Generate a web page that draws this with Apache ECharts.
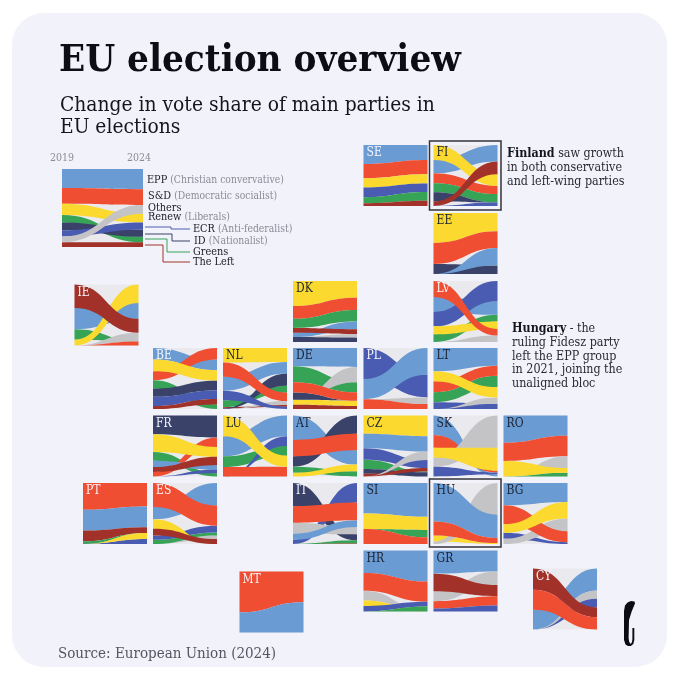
<!DOCTYPE html>
<html><head><meta charset="utf-8">
<style>html,body{margin:0;padding:0;background:#fff}#c{width:680px;height:680px}</style>
<script src="https://cdn.jsdelivr.net/npm/echarts@6/dist/echarts.min.js"></script>
</head><body><div id="c"></div>
<script>
const years = ['2019','2024'];
const partyLabels = [['EPP','Christian convervative'],['S&D','Democratic socialist'],['Others',''],['Renew','Liberals'],['ECR','Anti-federalist'],['ID','Nationalist'],['Greens',''],['The Left','']];
// Vote share by party, listed in stack order (top to bottom) for each election.
const KEY_2019=[['EPP',24.5],['SD',20],['REN',14.5],['GRN',9.5],['ID',10],['ECR',8],['OTH',7.5],['LEFT',6]];
const KEY_2024=[['EPP',26],['SD',20],['OTH',11.5],['REN',11],['ECR',9.5],['ID',9],['GRN',7],['LEFT',6]];
const KEY_top=['OTH'];
const SE_2019=[['EPP',31],['SD',23.5],['REN',15],['ECR',16],['GRN',10],['LEFT',4.5]];
const SE_2024=[['EPP',24.5],['SD',23.5],['REN',15],['ECR',14],['GRN',14.5],['LEFT',8.5]];
const SE_top=[];
const FI_2019=[['REN',24.5],['EPP',22],['SD',16],['GRN',15],['ID',15],['LEFT',7.5],['ECR',0]];
const FI_2024=[['EPP',27],['LEFT',21],['REN',19],['SD',13.5],['GRN',13.5],['ID',0],['ECR',6]];
const FI_top=['ECR','EPP','SD','GRN','ID','REN','LEFT'];
const EE_2019=[['REN',49],['SD',34.5],['ID',16.5],['EPP',0]];
const EE_2024=[['REN',30],['SD',27.5],['EPP',28.5],['ID',14]];
const EE_top=['EPP'];
const LV_2019=[['SD',26],['EPP',24.5],['ECR',23.5],['REN',13],['GRN',12.5],['OTH',0]];
const LV_2024=[['ECR',33],['EPP',22.5],['GRN',11],['REN',12],['SD',11],['OTH',10.5]];
const LV_top=['GRN','REN','SD'];
const IE_2019=[['LEFT',38.5],['EPP',35],['GRN',17],['REN',9.5],['OTH',0],['SD',0]];
const IE_2024=[['REN',30],['EPP',25.5],['LEFT',22.5],['OTH',14],['GRN',0],['SD',6.5]];
const IE_top=['REN','LEFT'];
const BE_2019=[['EPP',19],['REN',19],['SD',15],['GRN',13.5],['ID',13.5],['ECR',15],['LEFT',5]];
const BE_2024=[['SD',19],['EPP',17.5],['REN',17],['ID',16],['ECR',14],['LEFT',9],['GRN',7.5]];
const BE_top=['SD','REN','ID','ECR','LEFT'];
const NL_2019=[['REN',23.5],['SD',23],['EPP',23],['ECR',15.5],['GRN',11],['LEFT',2],['ID',1],['OTH',0]];
const NL_2024=[['REN',23],['EPP',19],['ID',20],['GRN',11],['SD',14],['OTH',6.5],['LEFT',3],['ECR',3.5]];
const NL_top=['GRN','ID','ECR','SD'];
const FR_2019=[['ID',30.5],['REN',29],['GRN',14.5],['EPP',10],['LEFT',8],['SD',7.5],['ECR',0]];
const FR_2024=[['ID',36],['SD',15.5],['REN',16],['LEFT',14],['EPP',7],['ECR',6],['GRN',5.5]];
const FR_top=['SD','REN','EPP','ECR','LEFT'];
const LU_2019=[['REN',34],['EPP',33],['GRN',17.5],['SD',15.5],['ECR',0]];
const LU_2024=[['EPP',34],['ECR',16],['GRN',16],['REN',18],['SD',16]];
const LU_top=['ECR','SD','REN'];
const DK_2019=[['REN',41],['SD',21],['GRN',15],['LEFT',8],['EPP',7],['OTH',0],['ID',8]];
const DK_2024=[['REN',27.5],['SD',20],['GRN',19],['EPP',12.5],['LEFT',8],['OTH',6],['ID',7]];
const DK_top=['EPP','LEFT'];
const DE_2019=[['EPP',30],['GRN',26],['SD',17],['ID',12],['OTH',0],['REN',8],['LEFT',7]];
const DE_2024=[['EPP',31],['OTH',25],['GRN',16.5],['SD',14],['ID',0],['REN',8.5],['LEFT',5]];
const DE_top=['GRN','OTH','ID','SD'];
const PL_2019=[['ECR',51],['EPP',33],['OTH',0],['SD',16]];
const PL_2024=[['EPP',44],['ECR',37],['OTH',11],['SD',8]];
const PL_top=['EPP'];
const LT_2019=[['EPP',38],['REN',16.5],['SD',18],['GRN',16.5],['ECR',11],['OTH',0]];
const LT_2024=[['EPP',29],['SD',16.5],['GRN',18.5],['REN',17],['OTH',10.5],['ECR',8.5]];
const LT_top=['GRN','SD','REN'];
const AT_2019=[['EPP',40],['SD',27],['ID',17],['GRN',10],['REN',6]];
const AT_2024=[['ID',30],['SD',27],['EPP',23.5],['REN',11],['GRN',8.5]];
const AT_top=['EPP','ID','GRN','REN','SD'];
const CZ_2019=[['REN',30],['EPP',23.5],['ECR',19],['GRN',15],['ID',8],['LEFT',4.5],['OTH',0]];
const CZ_2024=[['REN',34],['EPP',25],['OTH',14],['ECR',13],['LEFT',6],['GRN',1],['ID',7]];
const CZ_top=['LEFT','OTH'];
const SK_2019=[['EPP',32],['SD',21],['REN',16],['OTH',15],['ECR',16]];
const SK_2024=[['OTH',53],['REN',37.5],['SD',3],['ECR',3],['EPP',3.5]];
const SK_top=['SD','OTH','ECR','REN'];
const RO_2019=[['EPP',44.5],['SD',30],['REN',25.5],['OTH',0],['GRN',0]];
const RO_2024=[['EPP',33],['SD',34],['OTH',19],['REN',8],['GRN',6]];
const RO_top=['SD','OTH','REN'];
const BG_2019=[['EPP',36.5],['SD',31],['REN',14],['ECR',10],['OTH',8.5]];
const BG_2024=[['EPP',31],['REN',27],['OTH',21],['SD',18],['ECR',3]];
const BG_top=['ECR','OTH','SD','REN'];
const PT_2019=[['SD',44],['EPP',34],['LEFT',17.5],['GRN',4.5],['REN',0],['ECR',0]];
const PT_2024=[['SD',38.5],['EPP',34],['LEFT',9.5],['GRN',0],['REN',10],['ECR',8]];
const PT_top=['ECR','REN'];
const ES_2019=[['SD',39.5],['EPP',20],['REN',15.5],['LEFT',11],['ECR',7],['GRN',7],['OTH',0]];
const ES_2024=[['EPP',37],['SD',33],['ECR',11],['GRN',5],['OTH',6],['LEFT',8],['REN',0]];
const ES_top=['OTH','GRN','ECR','REN','LEFT','SD'];
const IT_2019=[['ID',38],['SD',27],['OTH',18],['EPP',10],['ECR',7],['GRN',0],['LEFT',0]];
const IT_2024=[['ECR',32],['SD',29],['EPP',11],['OTH',12],['ID',10],['GRN',5],['LEFT',1]];
const IT_top=['ID','ECR','OTH','EPP','SD'];
const MT_2019=[['SD',67],['EPP',33]];
const MT_2024=[['SD',50.5],['EPP',49.5]];
const MT_top=[];
const SI_2019=[['EPP',50],['REN',25.5],['GRN',0],['SD',24.5]];
const SI_2024=[['EPP',55.5],['REN',21.5],['GRN',12],['SD',11]];
const SI_top=['SD'];
const HU_2019=[['EPP',63],['SD',23],['REN',10],['OTH',4]];
const HU_2024=[['OTH',52],['EPP',38],['SD',8.5],['REN',1.5]];
const HU_top=['OTH','EPP','SD'];
const HR_2019=[['EPP',37],['SD',29],['OTH',16],['REN',9],['ECR',9],['GRN',0]];
const HR_2024=[['EPP',51],['SD',33],['ECR',8],['GRN',8],['OTH',0],['REN',0]];
const HR_top=['ECR','GRN'];
const GR_2019=[['EPP',38],['LEFT',29],['OTH',16],['SD',12],['ECR',5]];
const GR_2024=[['EPP',34.5],['OTH',22],['LEFT',18.5],['SD',15],['ECR',10]];
const GR_top=['OTH','LEFT'];
const CY_2019=[['LEFT',35],['SD',32.5],['EPP',32.5],['OTH',0],['ECR',0]];
const CY_2024=[['EPP',36],['OTH',13.5],['ECR',14.5],['LEFT',16],['SD',20]];
const CY_top=['EPP','OTH','ECR','LEFT','SD'];

// ---- styling and layout ----
const colors={EPP:'#6a9bd3',SD:'#f04e33',OTH:'#c4c4c7',REN:'#fbd92f',ECR:'#4a5cb1',ID:'#3a4269',GRN:'#37a356',LEFT:'#a23229'};
const C=[153,223,293,363.5,433.5,503.5], R=[145,213,281,348,415.5,483,550.5];
const tiles=[
 ['',KEY_2019,KEY_2024,KEY_top,62,169,81,78],
 ['SE',SE_2019,SE_2024,SE_top,C[3],R[0],,,1],['FI',FI_2019,FI_2024,FI_top,C[4],R[0]],
 ['EE',EE_2019,EE_2024,EE_top,C[4],R[1]],['LV',LV_2019,LV_2024,LV_top,C[4],R[2],,,1],
 ['DK',DK_2019,DK_2024,DK_top,C[2],R[2]],['IE',IE_2019,IE_2024,IE_top,74.5,284.5,,,1],
 ['BE',BE_2019,BE_2024,BE_top,C[0],R[3],,,1],['NL',NL_2019,NL_2024,NL_top,C[1],R[3]],
 ['DE',DE_2019,DE_2024,DE_top,C[2],R[3]],['PL',PL_2019,PL_2024,PL_top,C[3],R[3],,,1],
 ['LT',LT_2019,LT_2024,LT_top,C[4],R[3]],
 ['FR',FR_2019,FR_2024,FR_top,C[0],R[4],,,1],['LU',LU_2019,LU_2024,LU_top,C[1],R[4]],
 ['AT',AT_2019,AT_2024,AT_top,C[2],R[4]],['CZ',CZ_2019,CZ_2024,CZ_top,C[3],R[4]],
 ['SK',SK_2019,SK_2024,SK_top,C[4],R[4]],['RO',RO_2019,RO_2024,RO_top,C[5],R[4]],
 ['PT',PT_2019,PT_2024,PT_top,83,R[5],,,1],['ES',ES_2019,ES_2024,ES_top,C[0],R[5],,,1],
 ['IT',IT_2019,IT_2024,IT_top,C[2],R[5],,,1],['SI',SI_2019,SI_2024,SI_top,C[3],R[5]],
 ['HU',HU_2019,HU_2024,HU_top,C[4],R[5]],['BG',BG_2019,BG_2024,BG_top,C[5],R[5]],
 ['HR',HR_2019,HR_2024,HR_top,C[3],R[6]],['GR',GR_2019,GR_2024,GR_top,C[4],R[6]],
 ['MT',MT_2019,MT_2024,MT_top,239.5,571.5,,,1],['CY',CY_2019,CY_2024,CY_top,533,568.5,,,1]
];
const SERIF='"DejaVu Serif Condensed","DejaVu Serif",serif';
const INK='#15151f', GREY='#8b8b98';

function stack(list){
  const sum=list.reduce((a,r)=>a+r[1],0), out={}; let y=0;
  list.forEach(r=>{const h=r[1]/sum*100; out[r[0]]=[y,y+h]; y+=h;});
  return out;
}
const grids=[],xAxes=[],yAxes=[],series=[],graphics=[];
graphics.push({type:'rect',z:-10,shape:{x:12,y:13,width:655,height:654,r:32},style:{fill:'#f2f2fb'}});
tiles.forEach((t,i)=>{
  const [name,a,b,top,x,y,w=64,h=61,light]=t;
  grids.push({left:x,top:y,width:w,height:h,show:true,backgroundColor:'#e9e9ee',borderWidth:0,containLabel:false});
  xAxes.push({type:'value',gridIndex:i,min:0,max:1,show:false});
  yAxes.push({type:'value',gridIndex:i,min:0,max:100,inverse:true,show:false});
  const sa=stack(a),sb=stack(b);
  const order=a.map(r=>r[0]).filter(p=>!top.includes(p)).concat(top);
  const rows=order.map(p=>({value:[0,sa[p][0],sa[p][1],sb[p][0],sb[p][1]],party:p}));
  const keys=rows.map(r=>r.party);
  series.push({type:'custom',coordinateSystem:'cartesian2d',xAxisIndex:i,yAxisIndex:i,silent:true,animation:false,clip:false,
    encode:{x:0,y:1},data:rows.map(r=>r.value),
    renderItem:(params,api)=>{
      const p0=api.coord([0,api.value(1)]),p1=api.coord([0,api.value(2)]),q0=api.coord([1,api.value(3)]),q1=api.coord([1,api.value(4)]);
      const xm=(p0[0]+q0[0])/2;
      const d=`M${p0[0]} ${p0[1]}C${xm} ${p0[1]} ${xm} ${q0[1]} ${q0[0]} ${q0[1]}L${q1[0]} ${q1[1]}C${xm} ${q1[1]} ${xm} ${p1[1]} ${p1[0]} ${p1[1]}Z`;
      return {type:'path',shape:{pathData:d},style:{fill:colors[keys[params.dataIndex]]}};
    }});
  if(name) graphics.push({type:'text',z:50,x:x+3,y:y+2,style:{text:name,font:'12px '+SERIF,fill:light?'#f6f6fb':'#1b2333'}});
});

function txt(x,y,text,size,fill,weight){
  graphics.push({type:'text',z:60,x:x,y:y,style:{text:text,font:(weight||'normal')+' '+size+'px '+SERIF,fill:fill,verticalAlign:'middle'}});
}
function rtxt(x,y,text,size,rich){
  graphics.push({type:'text',z:60,x:x,y:y,style:{text:text,font:size+'px '+SERIF,verticalAlign:'middle',rich:rich}});
}
txt(59,61.5,'EU election overview',38.2,'#0d0d14','bold');
txt(60,106,'Change in vote share of main parties in',20.8,'#15151f');
txt(60,128,'EU elections',20.8,'#15151f');
txt(50,158.5,years[0],10.5,GREY);
txt(127,158.5,years[1],10.5,GREY);
const keyRich={n:{font:'10.8px '+SERIF,fill:'#20202c'},d:{font:'10.3px '+SERIF,fill:GREY}};
const keyPos=[[147,180],[148,196],[148,208],[148,217],[193,229],[194,241],[193,252],[193,262]];
partyLabels.forEach((l,i)=>{
  rtxt(keyPos[i][0],keyPos[i][1],`{n|${l[0]}}`+(l[1]?` {d|(${l[1]})}`:''),10.8,keyRich);
});
[[colors.ECR,227,171,229],[colors.ID,234,172,241],[colors.GRN,239,167,252],[colors.LEFT,245,163,262]].forEach(s=>{
  graphics.push({type:'polyline',z:40,shape:{points:[[145,s[1]],[s[2],s[1]],[s[2],s[3]],[190,s[3]]]},style:{stroke:s[0],lineWidth:1,fill:null}});
});
const noteRich={b:{font:'bold 12.4px '+SERIF,fill:'#15151f'},t:{font:'12.4px '+SERIF,fill:'#2a2a36'}};
rtxt(507,154,'{b|Finland} {t|saw growth}',12.4,noteRich);
rtxt(507,168,'{t|in both conservative}',12.4,noteRich);
rtxt(507,182,'{t|and left-wing parties}',12.4,noteRich);
rtxt(512,329,'{b|Hungary} {t|- the}',12.4,noteRich);
rtxt(512,343,'{t|ruling Fidesz party}',12.4,noteRich);
rtxt(512,356.5,'{t|left the EPP group}',12.4,noteRich);
rtxt(512,370,'{t|in 2021, joining the}',12.4,noteRich);
rtxt(512,384,'{t|unaligned bloc}',12.4,noteRich);
txt(58,654,'Source: European Union (2024)',15,'#555563');
[[429.5,141,71.5,69],[429.5,479,71.5,68]].forEach(b=>{
  graphics.push({type:'rect',z:45,shape:{x:b[0],y:b[1],width:b[2],height:b[3]},style:{fill:null,stroke:'#33333b',lineWidth:1.5}});
});
graphics.push({type:'polygon',z:60,shape:{points:[[624,640],[624,611],[625,605.5],[627.5,602.5],[631,601],[634.5,601.5],[635,603.5],[633.5,607],[631.5,612],[629,620],[628.6,638],[629.2,642],[630.8,644],[632,642],[632.4,639],[632.4,628],[634.3,628],[634.3,640],[633.3,644],[630.8,646],[628,646],[625.5,644.5]]},style:{fill:'#0b0b12'}});

const chart=echarts.init(document.getElementById('c'),null,{renderer:'canvas'});
chart.setOption({animation:false,backgroundColor:'#ffffff',grid:grids,xAxis:xAxes,yAxis:yAxes,series:series,graphic:{elements:graphics}});
</script></body></html>
